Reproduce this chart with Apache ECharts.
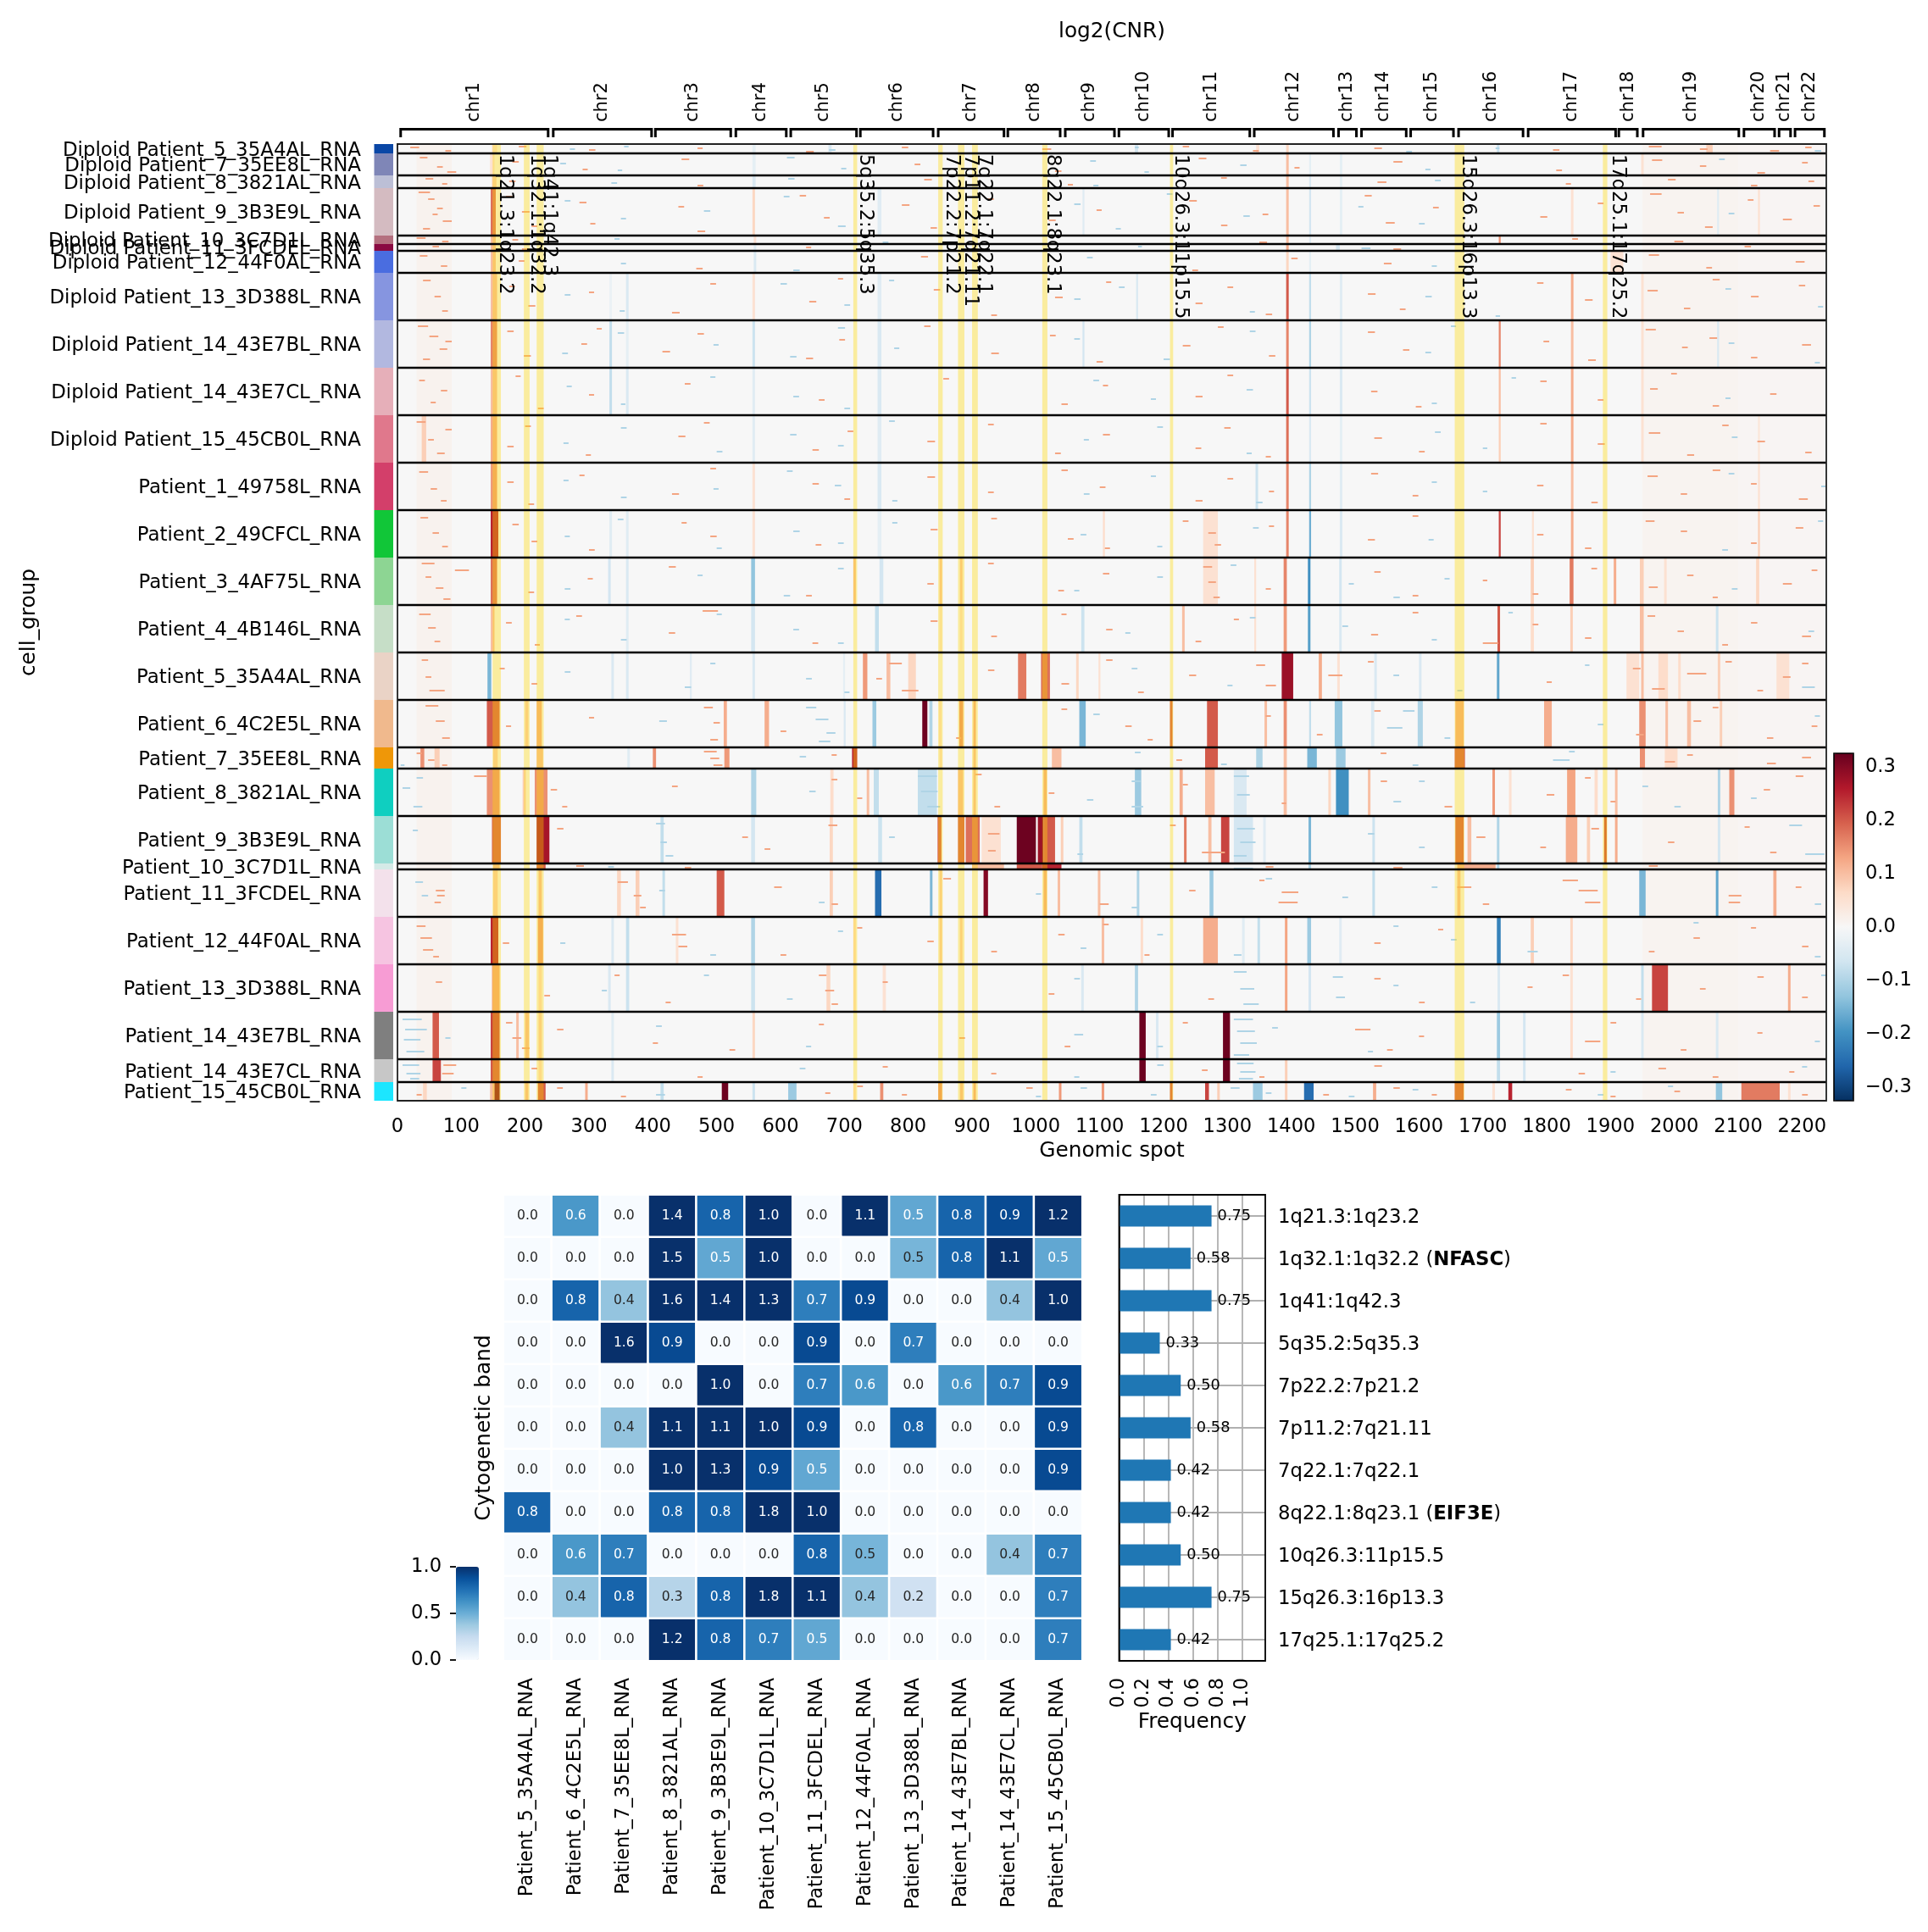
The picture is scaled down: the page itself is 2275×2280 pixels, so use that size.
<!DOCTYPE html>
<html><head><meta charset="utf-8">
<script src="https://cdn.jsdelivr.net/npm/echarts@6/dist/echarts.min.js"></script>
<style>html,body{margin:0;background:#fff}#c{width:2275px;height:2280px}</style></head>
<body><div id="c"></div>
<script>
const groupNames=["Diploid Patient_5_35A4AL_RNA","Diploid Patient_7_35EE8L_RNA","Diploid Patient_8_3821AL_RNA","Diploid Patient_9_3B3E9L_RNA","Diploid Patient_10_3C7D1L_RNA","Diploid Patient_11_3FCDEL_RNA","Diploid Patient_12_44F0AL_RNA","Diploid Patient_13_3D388L_RNA","Diploid Patient_14_43E7BL_RNA","Diploid Patient_14_43E7CL_RNA","Diploid Patient_15_45CB0L_RNA","Patient_1_49758L_RNA","Patient_2_49CFCL_RNA","Patient_3_4AF75L_RNA","Patient_4_4B146L_RNA","Patient_5_35A4AL_RNA","Patient_6_4C2E5L_RNA","Patient_7_35EE8L_RNA","Patient_8_3821AL_RNA","Patient_9_3B3E9L_RNA","Patient_10_3C7D1L_RNA","Patient_11_3FCDEL_RNA","Patient_12_44F0AL_RNA","Patient_13_3D388L_RNA","Patient_14_43E7BL_RNA","Patient_14_43E7CL_RNA","Patient_15_45CB0L_RNA"];
const groupCells=[11,26,15,56,10,8,26,56,56,56,56,56,56,56,56,56,56,25,56,56,7,56,56,56,56,27,22];
const groupColors=["#0a47a6","#7f86b7","#bcbfd6","#d4bbc1","#b4707f","#8a0a42","#4a6de0","#8695e0","#b2b8e0","#e6afb9","#e0788c","#d33f6a","#11c638","#8dd593","#c6dec7","#ead3c6","#f0b98d","#ef9708","#0fcfc0","#9cded6","#d5eae7","#f3e1eb","#f6c4e1","#f79cd4","#7f7f7f","#c7c7c7","#1ce6ff"];
const chrNames=["chr1","chr2","chr3","chr4","chr5","chr6","chr7","chr8","chr9","chr10","chr11","chr12","chr13","chr14","chr15","chr16","chr17","chr18","chr19","chr20","chr21","chr22"];
const chrStart=[5,244,404,530,616,725,847,956,1046,1130,1214,1342,1474,1510,1587,1662,1771,1913,1951,2109,2164,2189];
const chrEnd=[236,398,522,609,719,839,950,1038,1123,1208,1335,1466,1502,1580,1654,1763,1908,1942,2101,2157,2182,2235];
const bandStart=[149,198,218,714,847,878,900,1010,1210,1656,1888];
const bandEnd=[162,207,229,720,854,888,909,1018,1215,1671,1895];
const bandLabelSpot=[168,217,238,733,868,897,919,1026,1227,1676,1911];
const bandNames=["1q21.3:1q23.2","1q32.1:1q32.2","1q41:1q42.3","5q35.2:5q35.3","7p22.2:7p21.2","7p11.2:7q21.11","7q22.1:7q22.1","8q22.1:8q23.1","10q26.3:11p15.5","15q26.3:16p13.3","17q25.1:17q25.2"];
const xTicks=[0,100,200,300,400,500,600,700,800,900,1000,1100,1200,1300,1400,1500,1600,1700,1800,1900,2000,2100,2200];
const wash=[[30,85,.012],[1950,2100,.009],[2100,2235,.006]];
const fD5=[[148,156,.05],[556,561,-.03],[675,680,-.05],[1155,1160,-.06],[1345,1350,.05],[1392,1396,.07],[1722,1726,-.07],[2050,2060,.08]];
const fD7=[[145,152,.05],[556,561,-.03],[1392,1396,.1],[1428,1431,-.03],[1476,1480,-.03],[1948,1952,.05]];
const fD8=[[148,155,.08],[556,561,-.05],[1392,1396,.1],[1428,1431,-.05],[1476,1480,-.03]];
const fD9=[[146,154,.18],[556,560,.07],[752,758,-.04],[1073,1076,-.04],[1392,1396,.1],[1428,1431,-.06],[1476,1480,-.03],[1838,1842,.05],[2131,2134,.05],[2067,2070,-.04]];
const fD10=[[146,154,.1],[558,562,.05],[1392,1396,.1],[1428,1431,-.04],[1725,1728,.15]];
const fD11=[[146,154,.1],[558,562,-.04],[1392,1396,.12],[1470,1476,-.06]];
const fD12=[[146,154,.1],[558,562,-.05],[1392,1396,.07],[1428,1431,-.03],[1900,1920,.05]];
const fD13=[[146,156,.1],[332,336,-.02],[358,362,-.05],[556,560,.05],[752,758,-.04],[1157,1160,-.05],[1392,1396,.2],[1428,1431,-.08],[1476,1480,-.04],[1838,1842,.12],[1948,1952,.05]];
const fD14B=[[146,156,.16],[332,336,-.08],[358,362,-.03],[556,560,-.07],[752,758,-.05],[1073,1076,-.06],[1392,1396,.16],[1428,1431,-.1],[1476,1480,-.04],[1725,1728,.16],[1838,1842,.1],[1948,1952,.05],[2067,2070,-.05]];
const fD14C=[[146,156,.1],[332,336,-.08],[358,362,-.05],[556,560,-.04],[752,758,-.05],[1392,1396,.2],[1428,1431,-.07],[1476,1480,-.05],[1725,1728,.1],[1838,1842,.12],[1948,1952,.05]];
const fD15=[[146,156,.12],[38,45,.08],[556,560,-.04],[752,758,-.04],[1392,1396,.18],[1428,1431,-.05],[1476,1480,-.03],[1725,1728,.08],[1838,1842,.12],[1948,1952,.05],[2131,2134,.04]];
const fP1=[[146,156,.14],[556,560,.05],[752,758,-.05],[1344,1348,-.07],[1392,1396,.16],[1428,1431,-.1],[1476,1480,-.04],[1838,1842,.1],[2131,2134,.05]];
const fP2=[[146,158,.25],[332,336,-.04],[358,362,-.04],[556,560,.05],[752,758,-.03],[1105,1108,.06],[1262,1285,.05],[1392,1396,.16],[1428,1431,-.16],[1476,1480,-.05],[1725,1728,.22],[1777,1780,.05],[1838,1842,.12],[2131,2134,.08]];
const fP3=[[146,156,.18],[330,334,-.06],[358,362,-.05],[554,560,-.13],[714,718,.1],[755,761,-.06],[849,853,.09],[881,885,.09],[1262,1285,.05],[1342,1345,.05],[1388,1393,.16],[1426,1430,-.2],[1475,1479,-.06],[1775,1780,.08],[1836,1842,.17],[1905,1909,.12],[1946,1952,.08],[1984,1988,.05],[2128,2133,.07]];
const fP4=[[146,152,.1],[358,362,-.04],[554,560,-.06],[748,754,-.08],[849,853,.04],[881,885,.05],[1071,1076,-.07],[1229,1233,.1],[1342,1345,.05],[1388,1393,.14],[1426,1430,-.18],[1475,1479,-.05],[1723,1727,.2],[1775,1780,.06],[1837,1841,.08],[1946,1952,.1],[2065,2069,-.07]];
const fP5=[[141,147,-.15],[335,339,-.05],[358,362,-.05],[458,461,-.04],[556,560,-.05],[698,701,-.03],[729,736,.14],[766,772,.1],[800,812,.07],[972,985,.17],[1008,1022,.18],[1063,1067,.07],[1098,1101,.05],[1385,1403,.28],[1443,1448,.12],[1472,1476,.05],[1530,1534,-.05],[1600,1604,-.05],[1722,1726,-.17],[1925,1945,.05],[1948,1952,.1],[1975,1990,.06],[2006,2010,.06],[2068,2072,.08],[2160,2180,.05]];
const fP6=[[140,160,.2],[200,205,.08],[218,226,.12],[511,516,.12],[575,582,.12],[699,702,-.05],[744,750,-.12],[822,830,.32],[833,838,-.1],[848,852,.05],[880,886,.15],[902,906,.12],[1068,1078,-.15],[1210,1214,.2],[1268,1285,.2],[1358,1362,.1],[1388,1393,.15],[1428,1431,-.08],[1468,1480,-.13],[1525,1530,-.05],[1598,1606,-.1],[1657,1670,.12],[1796,1808,.12],[1945,1955,.15],[1986,1990,.1],[2020,2026,.1],[2071,2075,.08]];
const fP7=[[36,42,.15],[58,66,.08],[150,157,.08],[218,228,.1],[360,364,-.04],[400,405,.15],[512,520,.14],[712,720,.25],[849,853,.05],[902,906,.1],[1025,1040,.1],[1265,1285,.2],[1345,1355,-.1],[1388,1393,.1],[1425,1440,-.15],[1470,1485,-.12],[1656,1672,.2],[1946,1954,.15],[1985,2005,.06]];
const fP8=[[140,160,.15],[196,201,.08],[215,235,.15],[554,562,-.1],[678,683,.06],[735,739,.1],[746,754,-.08],[815,845,-.08],[878,886,.1],[902,906,.1],[1012,1017,.12],[1155,1165,-.12],[1225,1230,.12],[1265,1280,.1],[1310,1330,-.05],[1388,1393,.1],[1458,1462,.07],[1470,1490,-.2],[1520,1524,.1],[1715,1719,.14],[1741,1745,.05],[1832,1845,.13],[1875,1880,.06],[1907,1911,.1],[2068,2072,-.1],[2086,2094,.15]];
const fP9=[[148,162,.2],[218,238,.27],[412,417,-.08],[554,560,-.06],[677,682,.07],[753,759,-.07],[846,852,.2],[878,888,.2],[890,912,.18],[915,945,.05],[970,1000,.32],[1003,1012,.28],[1012,1030,.2],[1039,1043,.08],[1068,1073,-.08],[1232,1236,.17],[1270,1275,.1],[1290,1303,.22],[1310,1340,-.06],[1356,1360,-.04],[1427,1431,-.15],[1527,1531,-.07],[1657,1670,.2],[1676,1682,.1],[1722,1726,-.1],[1830,1848,.12],[1863,1868,.08],[1890,1894,.22],[1907,1911,.12],[2068,2072,-.06]];
const fP10=[[150,160,.1],[218,232,.2],[900,950,.1],[970,1010,.2],[1010,1040,.25],[1660,1720,.12],[1722,1726,-.1],[1427,1431,-.1]];
const fP11=[[150,157,.08],[221,226,.1],[344,350,.07],[373,379,.08],[415,419,-.08],[500,512,.2],[677,682,.08],[748,758,-.25],[834,838,-.15],[849,853,.08],[918,925,.3],[1012,1017,.12],[1034,1038,.1],[1097,1101,.1],[1158,1162,-.1],[1272,1278,-.12],[1527,1531,-.08],[1660,1665,.1],[1945,1955,-.15],[2065,2069,-.17],[2155,2160,.12]];
const fP12=[[146,158,.25],[220,228,.14],[335,339,-.05],[358,363,-.08],[436,440,.05],[554,560,-.1],[714,718,.06],[849,853,.08],[881,885,.08],[1103,1107,.1],[1164,1168,.06],[1262,1285,.12],[1323,1327,-.04],[1347,1351,-.08],[1390,1394,.13],[1425,1431,-.12],[1475,1479,-.04],[1722,1728,-.22],[1775,1780,.08],[1837,1841,.07]];
const fP13=[[148,160,.13],[221,226,.06],[330,334,-.05],[358,363,-.07],[554,560,-.07],[672,678,.07],[714,718,.05],[760,765,.05],[1071,1075,-.05],[1155,1160,-.1],[1390,1394,.13],[1427,1431,-.06],[1723,1727,-.05],[1837,1841,.05],[1948,1952,-.08],[1965,1990,.22],[2178,2182,.12]];
const fP14B=[[55,65,.2],[146,160,.22],[186,190,.1],[200,206,.1],[221,226,.08],[335,339,-.04],[556,560,.07],[1162,1172,.32],[1188,1192,-.05],[1293,1304,.32],[1722,1727,-.12],[1763,1767,-.06],[1837,1841,.06],[1948,1952,-.05],[2065,2069,-.05]];
const fP14C=[[55,68,.22],[146,160,.2],[221,226,.06],[335,339,-.05],[1162,1172,.32],[1293,1304,.32],[1390,1394,.08],[1722,1727,-.08],[1763,1767,-.06]];
const fP15=[[40,46,.07],[145,152,.1],[152,160,.3],[200,205,.1],[220,232,.2],[294,298,.12],[412,417,-.08],[508,518,.32],[556,560,-.07],[612,625,-.12],[714,718,.05],[756,761,.15],[847,853,.15],[881,886,.1],[902,906,.12],[1036,1040,.14],[1103,1107,.14],[1210,1214,.2],[1265,1271,.22],[1284,1288,.08],[1340,1355,-.12],[1390,1394,.08],[1420,1435,-.25],[1528,1533,.12],[1656,1670,.2],[1715,1719,.05],[1740,1746,.25],[2065,2075,-.13],[2105,2165,.17],[2178,2182,.05]];
const groupFeatures=[fD5,fD7,fD8,fD9,fD10,fD11,fD12,fD13,fD14B,fD14C,fD15,fP1,fP2,fP3,fP4,fP5,fP6,fP7,fP8,fP9,fP10,fP11,fP12,fP13,fP14B,fP14C,fP15];
// short dashes estimated from the picture as flat triples: spot, row inside the group, length in spots
const dashRedValue=.13, dashBlueValue=-.1;
const rD5=[20,3,14,75,7,9,190,2,12,300,6,10,470,4,8,640,8,12,790,3,10,1010,5,14,1230,2,10,1340,7,9,1530,4,12,1810,6,10,1960,2,20,2040,5,12,2150,7,14,2205,3,10];
const bD5=[270,5,8,355,2,7,676,6,10,1155,3,6,1580,8,9,1720,4,6,2220,7,10];
const rD7=[35,4,12,62,15,9,78,21,14,180,9,10,290,18,8,445,6,12,810,12,9,1030,20,10,1255,5,12,1405,16,8,1560,9,14,1815,19,9,1965,7,16,2040,14,10,2130,22,12,2200,10,9];
const bD7=[255,11,9,345,19,7,610,4,12,695,17,8,1085,8,9,1170,21,7,1320,13,10,1610,18,8,2070,6,9];
const rD8=[44,3,12,70,9,8,175,6,10,470,11,9,825,4,12,1050,10,8,1290,2,9,1535,7,14,1830,9,8,1990,4,12,2120,11,10,2210,6,9];
const bD8=[335,8,9,612,3,10,1090,11,8,1625,5,9];
const rD9=[33,4,18,48,12,10,62,23,9,71,38,14,40,47,11,55,30,8,170,9,10,195,27,12,210,44,9,285,16,11,302,41,8,440,21,9,470,50,12,630,8,10,668,34,9,790,19,12,835,46,10,925,12,9,1020,37,11,1095,25,8,1240,14,12,1290,43,10,1355,30,9,1515,8,11,1548,40,14,1622,22,9,1790,33,11,1880,17,9,1962,6,18,2005,28,10,2048,45,12,2115,13,9,2170,36,14,2218,20,10];
const bD9=[262,14,9,350,35,8,480,26,10,605,9,9,690,44,12,1060,18,10,1125,47,8,1205,6,9,1325,32,10,1505,21,8,1600,41,9,2085,29,9];
const rD10=[30,2,14,70,6,10,180,4,9,1350,7,12,1840,3,9,2000,6,14];
const bD10=[340,3,8,760,7,9];
const rD11=[55,2,10,195,5,10,640,3,8,1560,5,12,2110,2,10];
const bD11=[1510,4,14,1160,2,6];
const rD12=[35,5,12,68,17,10,190,11,9,468,20,10,820,6,11,1245,22,9,1400,8,10,1545,14,12,1960,4,16,2050,19,9,2190,12,14];
const bD12=[350,14,8,620,22,10,1080,7,9,1620,17,8];
const rD13=[40,8,12,58,27,10,70,44,9,175,15,9,205,38,11,300,22,8,430,46,12,490,12,9,645,33,11,690,6,8,840,19,10,930,49,9,1030,28,12,1110,10,8,1250,35,11,1300,16,9,1360,48,10,1520,24,12,1570,42,9,1785,11,10,1860,31,12,1958,20,16,2015,41,10,2060,7,11,2120,27,12,2195,14,10];
const bD13=[262,25,9,348,44,8,600,12,10,700,37,9,770,8,8,1060,30,10,1130,16,9,1335,45,8,1610,27,10,1720,50,7,2080,18,9,2225,39,8];
const rD14B=[32,6,16,50,18,14,66,33,12,40,45,11,75,24,10,172,12,10,198,41,11,288,27,9,312,9,8,415,36,12,470,15,10,640,44,11,692,22,9,825,6,10,930,38,12,1022,17,9,1095,48,10,1230,29,12,1285,7,9,1365,41,10,1520,13,11,1575,34,10,1795,24,9,1865,46,12,1955,10,16,2012,31,9,2055,20,12,2120,43,10,2200,28,14];
const bD14B=[258,38,9,345,14,10,495,28,8,615,42,10,690,8,11,778,32,8,1060,21,9,1200,45,10,1335,12,9,1610,37,9,1650,6,8,2085,26,9,2220,49,8];
const rD14C=[34,14,9,52,40,8,68,26,10,185,9,8,220,47,9,300,31,8,450,18,9,660,37,9,855,12,9,1040,42,10,1105,20,8,1250,33,11,1300,8,9,1525,27,10,1595,45,9,1790,15,10,1880,37,9,1962,24,12,1995,6,9,2060,44,10,2150,30,10];
const bD14C=[265,21,8,350,42,7,490,10,8,620,33,9,700,47,9,1090,14,9,1180,36,8,1330,25,10,1620,41,8,1745,11,7,2080,35,8];
const rD15=[30,7,14,48,28,9,62,44,12,75,16,10,172,36,10,200,12,9,295,46,8,440,24,11,480,8,9,650,40,10,705,18,9,830,30,12,925,10,9,1030,44,9,1105,22,11,1250,38,9,1295,14,10,1360,48,8,1530,26,12,1600,42,9,1790,9,10,1880,33,11,1960,20,18,2020,46,11,2075,11,10,2130,30,12,2205,43,10];
const bD15=[260,32,8,350,14,9,500,42,9,615,22,10,690,35,9,770,6,9,1075,28,8,1190,13,9,1330,44,8,1625,19,9,1700,38,7,2090,25,9];
const rP1=[34,10,14,52,30,10,68,44,9,172,22,10,205,48,9,285,14,8,430,36,11,490,6,9,650,24,10,700,42,9,830,16,12,925,34,9,1040,8,10,1100,28,9,1250,44,11,1300,18,9,1365,33,8,1525,12,11,1590,38,9,1785,26,10,1870,46,10,1958,15,16,2010,36,10,2060,8,12,2120,24,9,2195,42,14];
const bP1=[260,20,8,350,40,9,495,30,8,610,9,9,685,26,10,775,44,8,1075,36,9,1180,15,8,1345,46,10,1620,22,8,1700,33,7,2085,12,9,2230,27,8];
const rP2=[36,8,12,55,26,10,70,42,9,180,16,10,210,36,9,300,46,9,445,14,8,490,30,10,655,40,9,835,22,11,930,9,9,1050,33,9,1108,44,8,1230,12,9,1270,26,12,1280,40,10,1365,18,8,1520,34,11,1590,6,9,1785,28,10,1860,44,10,1955,12,14,2010,24,10,2120,38,9,2190,20,12];
const bP2=[262,30,8,345,10,9,500,44,8,620,24,10,690,38,9,775,14,8,1070,28,9,1190,42,8,1340,20,9,1615,34,8,2075,46,9,2225,12,8];
const rP3=[38,6,20,44,22,9,60,35,12,72,48,11,90,14,22,205,40,9,298,24,8,425,10,11,640,44,9,830,30,10,925,6,9,1035,38,9,1105,18,10,1262,10,14,1270,28,12,1278,46,10,1360,36,8,1530,16,10,1590,44,9,1700,26,7,1778,42,9,1870,12,9,1960,34,14,2020,20,10,2060,46,8,2170,30,14,2215,14,9];
const bP3=[262,36,9,470,20,8,605,44,10,690,12,9,1060,38,8,1190,22,9,1305,8,9,1490,30,8,1560,46,10,1640,24,8,2090,36,9];
const rP4=[34,10,18,48,26,12,58,42,9,170,20,9,215,46,8,280,12,9,425,32,10,478,6,24,650,44,9,835,18,11,930,36,9,1040,10,8,1110,28,10,1250,42,9,1310,16,8,1525,34,11,1590,8,9,1700,44,24,1778,22,9,1860,38,10,1958,12,12,2005,30,10,2075,46,9,2120,20,10,2200,36,14];
const bP4=[262,16,8,350,40,9,500,10,8,620,28,9,690,44,9,1140,32,8,1335,14,9,1480,24,9,1620,40,8,1740,8,7,2210,30,9];
const rP5=[38,8,10,44,28,9,50,44,24,160,18,8,210,36,9,770,12,20,790,44,26,750,30,9,925,20,10,1040,36,12,1110,8,10,1160,46,9,1240,26,11,1345,14,14,1360,38,16,1458,26,22,1520,10,9,1800,34,8,1935,18,12,1965,42,20,2020,24,30,2080,10,10,2130,44,9,2170,28,12,2200,12,10];
const bP5=[262,22,9,450,40,10,490,12,8,640,30,9,700,46,8,1150,18,9,1300,38,8,1560,26,9,1660,44,8,1860,14,7,2200,40,20];
const rP6=[44,6,20,60,24,14,70,44,12,170,30,8,480,8,14,495,26,10,490,46,12,300,20,8,600,36,9,875,44,8,1040,10,9,1140,30,10,1175,46,8,1360,18,8,1440,40,9,1530,12,10,1940,40,12,2030,24,12,2060,8,9,2145,44,10,2215,30,9];
const bP6=[410,24,12,640,8,16,655,22,20,672,38,14,660,48,18,1090,16,10,1550,32,24,1575,12,18,1640,44,9,1880,28,9,2220,18,8];
const rP7=[30,6,8,48,14,10,70,20,8,480,4,20,490,12,14,495,20,14,680,8,8,1220,14,9,1540,6,9,1985,16,16,2020,8,9,2145,18,14,2200,11,14];
const bP7=[5,20,6,630,10,10,1155,5,9,1290,19,9,1810,14,26,1835,4,9,1590,20,9];
const rP8=[120,8,20,240,24,10,258,44,8,430,20,9,680,12,9,720,34,8,905,6,10,935,44,9,1020,28,9,1230,18,8,1385,40,7,1540,14,10,1640,44,12,1800,30,12,1860,10,9,1900,38,8,2140,24,10,2190,8,12];
const bP8=[8,22,12,25,44,14,30,10,10,645,26,10,815,8,30,820,26,26,830,44,20,1080,36,10,1150,14,14,1150,44,18,1310,8,24,1315,30,20,1560,38,12,1600,14,9,1950,20,9,2000,44,10,2120,34,9];
const rP9=[250,14,10,540,24,9,575,38,9,675,10,14,925,20,18,925,40,12,1210,10,9,1260,42,36,1690,24,14,1790,36,9,1870,14,12,1990,30,10,2110,12,8,2150,42,10];
const bP9=[24,16,8,405,8,14,412,30,10,420,46,12,770,24,9,1065,44,9,1315,14,28,1320,30,24,1310,46,20,1520,20,10,1600,36,9,2180,10,20,2205,44,30];
const rP10=[280,2,12,450,4,10,1360,3,12,1560,4,14,1960,2,14];
const bP10=[330,3,9,1310,5,30];
const rP11=[60,24,14,62,30,12,58,38,10,345,14,16,370,30,12,380,44,9,590,20,12,680,40,10,855,10,12,1100,40,14,1240,24,10,1350,12,8,1385,26,26,1380,38,30,1660,20,22,1700,40,10,1825,12,24,1850,24,30,1860,38,24,2085,30,20,2085,38,18,2190,20,9];
const bP11=[28,14,12,38,30,10,410,24,9,660,38,9,1000,28,8,1150,44,9,1360,10,10,1480,32,9,1620,20,9,2220,40,10];
const rP12=[30,10,14,36,24,18,40,38,16,56,46,9,165,30,10,430,20,22,440,34,14,600,44,9,720,12,8,830,28,10,930,40,9,1035,20,10,1105,8,9,1170,44,8,1530,30,10,1630,14,8,1960,40,9,2030,24,10,2120,12,8,2200,34,10];
const bP12=[255,30,8,490,44,9,690,16,8,1070,36,9,1190,20,9,1310,44,12,1560,10,8,1650,26,9,1770,40,16,2030,6,8,2220,46,9];
const rP13=[60,20,10,230,36,9,340,12,8,420,44,8,660,12,12,670,30,14,680,46,10,760,20,8,1020,34,9,1270,40,9,1530,16,10,1600,44,9,1770,26,8,1825,12,10,1940,40,8,2040,28,9,2130,14,10,2200,38,9];
const bP13=[320,30,8,480,12,8,610,40,9,1060,16,9,1310,8,20,1320,28,22,1325,46,24,1465,14,16,1470,38,14,1560,24,8,1680,44,8,2230,12,9];
const rP14B=[170,12,10,180,30,14,195,42,12,250,20,10,400,36,8,520,44,9,660,14,8,880,30,9,1045,40,9,1230,12,8,1500,20,24,1550,44,9,1600,28,8,1860,34,24,1900,12,9,2010,44,9,2130,24,8];
const bP14B=[8,8,30,12,20,34,10,32,26,14,46,28,75,30,8,405,16,9,640,40,8,1060,26,14,1190,40,9,1310,8,30,1315,22,28,1320,36,26,1310,50,24,1370,18,9,1520,46,8,2220,34,8];
const rP14C=[72,6,20,70,16,18,210,10,9,470,20,8,760,8,8,930,16,8,1260,12,9,1350,20,8,1530,7,12,1850,16,10,1975,10,12,2060,20,9,2180,14,8];
const bP14C=[8,6,26,14,16,22,20,22,14,630,10,9,1060,20,8,1190,6,10,1315,4,26,1320,14,24,1318,22,22,1900,14,8,2200,8,8];
const rP15=[30,14,8,250,6,9,350,16,8,670,12,8,720,4,9,790,14,8,985,6,10,1450,14,9,1560,6,10,1620,14,8,1830,8,9,1900,16,8,2000,10,9,2200,14,9];
const bP15=[100,6,8,405,14,14,1000,16,8,1070,6,10,1180,14,9,1305,6,14,1360,12,9,1490,16,9,1590,8,9,1880,14,9,1990,4,8];
const dashRed=[rD5,rD7,rD8,rD9,rD10,rD11,rD12,rD13,rD14B,rD14C,rD15,rP1,rP2,rP3,rP4,rP5,rP6,rP7,rP8,rP9,rP10,rP11,rP12,rP13,rP14B,rP14C,rP15];
const dashBlue=[bD5,bD7,bD8,bD9,bD10,bD11,bD12,bD13,bD14B,bD14C,bD15,bP1,bP2,bP3,bP4,bP5,bP6,bP7,bP8,bP9,bP10,bP11,bP12,bP13,bP14B,bP14C,bP15];
const matrixCols=["Patient_5_35A4AL_RNA","Patient_6_4C2E5L_RNA","Patient_7_35EE8L_RNA","Patient_8_3821AL_RNA","Patient_9_3B3E9L_RNA","Patient_10_3C7D1L_RNA","Patient_11_3FCDEL_RNA","Patient_12_44F0AL_RNA","Patient_13_3D388L_RNA","Patient_14_43E7BL_RNA","Patient_14_43E7CL_RNA","Patient_15_45CB0L_RNA"];
const freqLabels=["1q21.3:1q23.2","1q32.1:1q32.2 (NFASC)","1q41:1q42.3","5q35.2:5q35.3","7p22.2:7p21.2","7p11.2:7q21.11","7q22.1:7q22.1","8q22.1:8q23.1 (EIF3E)","10q26.3:11p15.5","15q26.3:16p13.3","17q25.1:17q25.2"];
const freqValues=[.75,.58,.75,.33,.50,.58,.42,.42,.50,.75,.42];
const mRow1=[0,.6,0,1.4,.8,1,0,1.1,.53,.8,.9,1.2];
const mRow2=[0,0,0,1.5,.53,1,0,0,.47,.8,1.1,.53];
const mRow3=[0,.8,.4,1.6,1.4,1.3,.7,.9,0,0,.4,1];
const mRow4=[0,0,1.6,.9,0,0,.9,0,.7,0,0,0];
const mRow5=[0,0,0,0,1,0,.7,.6,0,.6,.7,.9];
const mRow6=[0,0,.4,1.1,1.1,1,.9,0,.8,0,0,.9];
const mRow7=[0,0,0,1,1.3,.9,.53,0,0,0,0,.9];
const mRow8=[.8,0,0,.8,.8,1.8,1,0,0,0,0,0];
const mRow9=[0,.6,.7,0,0,0,.8,.47,0,0,.4,.7];
const mRow10=[0,.4,.8,.3,.8,1.8,1.1,.4,.2,0,0,.7];
const mRow11=[0,0,0,1.2,.8,.7,.53,0,0,0,0,.7];
const matrixRows=[mRow1,mRow2,mRow3,mRow4,mRow5,mRow6,mRow7,mRow8,mRow9,mRow10,mRow11];
const heatTicks=[-.3,-.2,-.1,0,.1,.2,.3];

const F='DejaVu Sans';
const total=groupCells.reduce((a,b)=>a+b,0);
const rowStart=[];let acc=0;groupCells.forEach(n=>{rowStart.push(acc);acc+=n;});
const heatData=[[0,2238,0,total,0]];
groupFeatures.forEach((fs,g)=>{
  const r0=rowStart[g],r1=r0+groupCells[g];
  wash.forEach(f=>heatData.push([f[0],f[1],r0,r1,f[2]]));
  fs.forEach(f=>heatData.push([f[0],f[1],r0,r1,f[2]]));
  [[dashRed[g],dashRedValue],[dashBlue[g],dashBlueValue]].forEach(([d,val])=>{
    for(let i=0;i<d.length;i+=3) heatData.push([d[i],d[i]+d[i+2],r0+d[i+1],Math.min(r0+d[i+1]+2,r1),val]);
  });
});
const stripData=groupCells.map((n,g)=>[0,1,rowStart[g],rowStart[g]+n,g]);
const centers=groupCells.map((n,g)=>rowStart[g]+n/2);
const rectItem=(p,api)=>{
  const a=api.coord([api.value(0),api.value(2)]),b=api.coord([api.value(1),api.value(3)]);
  return {type:'rect',shape:{x:a[0],y:a[1],width:b[0]-a[0],height:b[1]-a[1]},style:{fill:api.visual('color')}};
};
const tickLine={color:'#000',width:1.8};
const nameStyle={fontFamily:F,fontSize:24.8,color:'#000'};
const option={
 animation:false,backgroundColor:'#fff',textStyle:{fontFamily:F},
 title:{text:'log2(CNR)',left:1307,top:20,textAlign:'center',textStyle:{fontFamily:F,fontSize:24.8,fontWeight:'normal',color:'#000'}},
 grid:[
  {left:469,top:170,width:1686,height:1129,show:true,borderColor:'#222',borderWidth:1.8,z:5,backgroundColor:'transparent'},
  {left:441.5,top:170,width:22.5,height:1129},
  {left:2164,top:889,width:23,height:410,show:true,borderColor:'#000',borderWidth:1.6,z:9,backgroundColor:'transparent'},
  {left:594,top:1410,width:683,height:550},
  {left:538,top:1849,width:27,height:110},
  {left:1320.5,top:1410,width:172.5,height:550,show:true,borderColor:'#000',borderWidth:1.8,z:5,backgroundColor:'transparent'}
 ],
 xAxis:[
  {gridIndex:0,type:'value',min:0,max:2238,name:'Genomic spot',nameLocation:'middle',nameGap:47,nameTextStyle:nameStyle,splitLine:{show:false},
    axisLine:{lineStyle:tickLine},axisTick:{customValues:xTicks,length:7,lineStyle:tickLine},axisLabel:{customValues:xTicks,color:'#000',fontFamily:F,fontSize:22.6,margin:20,hideOverlap:false,formatter:v=>String(v)}},
  {gridIndex:1,type:'value',min:0,max:1,show:false},
  {gridIndex:2,type:'value',min:0,max:1,show:false},
  {gridIndex:3,type:'category',data:matrixCols,splitLine:{show:false},axisLine:{show:false},axisTick:{alignWithLabel:true,length:7,lineStyle:tickLine},axisLabel:{rotate:90,interval:0,margin:20,color:'#000',fontFamily:F,fontSize:22.3}},
  {gridIndex:4,type:'value',min:0,max:1,show:false},
  {gridIndex:5,type:'value',min:0,max:1.186,name:'Frequency',nameLocation:'middle',nameGap:60,nameTextStyle:nameStyle,splitLine:{show:false},
    axisLine:{lineStyle:tickLine},axisTick:{customValues:[0,.2,.4,.6,.8,1],length:7,lineStyle:tickLine},axisLabel:{customValues:[0,.2,.4,.6,.8,1],rotate:90,margin:20,color:'#000',fontFamily:F,fontSize:22.3,formatter:v=>v.toFixed(1)}}
 ],
 yAxis:[
  {gridIndex:0,type:'value',min:0,max:total,inverse:true,name:'cell_group',nameLocation:'middle',nameGap:422,nameRotate:90,nameTextStyle:nameStyle,axisLine:{show:false},axisTick:{show:false},splitLine:{show:false},axisLabel:{show:false}},
  {gridIndex:1,type:'value',min:0,max:total,inverse:true,show:false},
  {gridIndex:2,type:'value',min:-.325,max:.325,position:'right',splitLine:{show:false},axisLine:{show:false},
    axisTick:{customValues:heatTicks,length:7,lineStyle:tickLine},axisLabel:{customValues:heatTicks,margin:14,padding:[5,0,0,0],color:'#000',fontFamily:F,fontSize:22.6,formatter:v=>v.toFixed(1).replace('-','\u2212')}},
  {gridIndex:3,type:'category',data:freqLabels,inverse:true,name:'Cytogenetic band',nameLocation:'middle',nameGap:10,nameRotate:90,nameTextStyle:nameStyle,axisLine:{show:false},axisTick:{show:false},axisLabel:{show:false}},
  {gridIndex:4,type:'value',min:0,max:1,position:'left',splitLine:{show:false},axisLine:{show:false},
    axisTick:{customValues:[0,.5,1],length:7,lineStyle:tickLine},axisLabel:{customValues:[0,.5,1],margin:17,padding:[5,0,0,0],color:'#000',fontFamily:F,fontSize:22.6,formatter:v=>v.toFixed(1)}},
  {gridIndex:5,type:'category',data:freqLabels,inverse:true,position:'right',splitLine:{show:false},axisLine:{show:true,lineStyle:tickLine},axisTick:{length:7,alignWithLabel:false,lineStyle:tickLine},
    axisLabel:{margin:15,interval:0,padding:[5,0,0,0],color:'#000',fontFamily:F,fontSize:22.8,formatter:s=>{const m=s.match(/^(.*\()(.*)(\))$/);return m?`{r|${m[1]}}{b|${m[2]}}{r|${m[3]}}`:`{r|${s}}`;},rich:{r:{fontFamily:F,fontSize:22.8,color:'#000'},b:{fontFamily:F,fontSize:22.8,color:'#000',fontWeight:'bold'}}}}
 ],
 visualMap:[
  {type:'continuous',seriesIndex:0,dimension:4,min:-.325,max:.325,left:2164,top:889,itemWidth:23,itemHeight:410,padding:0,calculable:false,hoverLink:false,
   inRange:{color:['#053061','#2166ac','#4393c3','#92c5de','#d1e5f0','#f7f7f7','#fddbc7','#f4a582','#d6604d','#b2182b','#67001f']}},
  {type:'continuous',seriesIndex:7,dimension:2,min:0,max:1,left:538,top:1849,itemWidth:27,itemHeight:110,padding:0,calculable:false,hoverLink:false,
   inRange:{color:['#f7fbff','#deebf7','#c6dbef','#9ecae1','#6baed6','#4292c6','#2171b5','#08519c','#08306b']}}
 ],
 series:[
  {type:'custom',name:'log2(CNR)',xAxisIndex:0,yAxisIndex:0,z:2,data:heatData,renderItem:rectItem,encode:{x:[0,1],y:[2,3]}},
  {type:'custom',name:'bands',xAxisIndex:0,yAxisIndex:0,z:3,data:bandStart.map((s,i)=>[s,bandEnd[i]]),
   renderItem:(p,api)=>{const a=api.coord([api.value(0),0]),b=api.coord([api.value(1),total]);return {type:'rect',shape:{x:a[0],y:a[1],width:b[0]-a[0],height:b[1]-a[1]},style:{fill:'rgba(255,215,0,0.36)'}};}},
  {type:'custom',name:'separators',xAxisIndex:0,yAxisIndex:0,z:4,data:rowStart.slice(1).map(r=>[r]),
   renderItem:(p,api)=>{const a=api.coord([0,api.value(0)]),b=api.coord([2238,api.value(0)]);return {type:'line',shape:{x1:a[0],y1:a[1],x2:b[0],y2:b[1]},style:{stroke:'#000',lineWidth:2.4}};}},
  {type:'custom',name:'bandLabels',xAxisIndex:0,yAxisIndex:0,z:6,clip:false,data:bandLabelSpot.map((s,i)=>[s,bandNames[i]]),
   renderItem:(p,api)=>{const a=api.coord([api.value(0),0]);return {type:'text',x:a[0],y:182,rotation:-Math.PI/2,style:{text:bandNames[p.dataIndex],x:0,y:0,align:'left',verticalAlign:'middle',fontFamily:F,fontSize:22.6,fill:'#000'}};}},
  {type:'custom',name:'chromosomes',xAxisIndex:0,yAxisIndex:0,z:6,clip:false,data:chrStart.map((s,i)=>[s,chrEnd[i]]),
   renderItem:(p,api)=>{const a=api.coord([api.value(0),0])[0],b=api.coord([api.value(1),0])[0];
     return {type:'group',children:[
      {type:'polyline',shape:{points:[[a,162],[a,152.5],[b,152.5],[b,162]]},style:{fill:'none',stroke:'#000',lineWidth:3}},
      {type:'text',x:(a+b)/2,y:144,rotation:Math.PI/2,style:{text:chrNames[p.dataIndex],x:0,y:0,align:'left',verticalAlign:'middle',fontFamily:F,fontSize:21,fill:'#000'}}]};}},
  {type:'custom',name:'strip',xAxisIndex:1,yAxisIndex:1,data:stripData,
   renderItem:(p,api)=>{const a=api.coord([0,api.value(2)]),b=api.coord([1,api.value(3)]);return {type:'rect',shape:{x:a[0],y:a[1],width:b[0]-a[0],height:b[1]-a[1]},style:{fill:groupColors[p.dataIndex]}};}},
  {type:'custom',name:'groupLabels',xAxisIndex:1,yAxisIndex:1,clip:false,z:6,data:centers.map(c=>[0,c]),
   renderItem:(p,api)=>{const a=api.coord([0,api.value(1)]);return {type:'text',x:426,y:a[1]+2.5,style:{text:groupNames[p.dataIndex],x:0,y:0,align:'right',verticalAlign:'middle',fontFamily:F,fontSize:22.9,fill:'#000'}};}},
  {type:'heatmap',name:'matrix',xAxisIndex:3,yAxisIndex:3,
   data:matrixRows.flatMap((row,r)=>row.map((v,c)=>({value:[c,r,Math.min(v,1),v],label:{color:v>=.5?'#fff':'#262626'}}))),
   itemStyle:{borderColor:'#fff',borderWidth:2.6},
   label:{show:true,fontFamily:F,fontSize:15.6,formatter:p=>p.value[3].toFixed(1)}},
  {type:'bar',name:'Frequency',xAxisIndex:5,yAxisIndex:5,data:freqValues,barWidth:25,itemStyle:{color:'#1f77b4'},z:3,
   label:{show:true,position:'right',distance:7,fontFamily:F,fontSize:17.8,color:'#000',formatter:p=>p.value.toFixed(2)},
   markLine:{silent:true,symbol:'none',label:{show:false},lineStyle:{color:'#b0b0b0',width:1.8,type:'solid'},z:2,animation:false,
    data:[...[.2,.4,.6,.8,1].map(v=>({xAxis:v})),...freqLabels.map(s=>({yAxis:s}))]}}
 ]
};
const chart=echarts.init(document.getElementById('c'),null,{width:2275,height:2280,renderer:'canvas'});
chart.setOption(option);
</script></body></html>
